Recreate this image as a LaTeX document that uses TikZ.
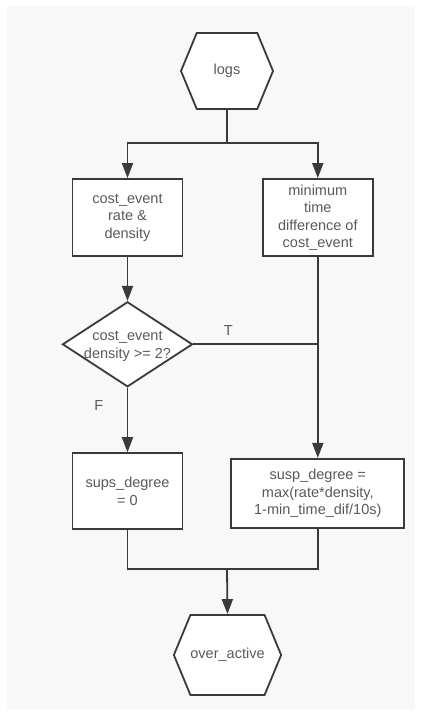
\documentclass[tikz,border=0pt]{standalone}
\usepackage{fontspec}
\setmainfont{Liberation Sans}
\usepackage{xcolor}
\usepackage{tikz}
\usetikzlibrary{shapes.geometric, shapes.symbols, arrows.meta, positioning, calc}

\definecolor{linegray}{HTML}{3A3A3A}
\definecolor{txtgray}{HTML}{5A5A5A}
\definecolor{bggray}{HTML}{F8F8F8}

\begin{document}
\begin{tikzpicture}[
    x=1pt, y=-1pt,
    every node/.style={font=\fontsize{14.5}{17.5}\selectfont, text=txtgray},
    hexa/.style={signal, signal to=west and east, signal pointer angle=135, draw=linegray, line width=1.8pt, fill=white, minimum width=92pt, minimum height=76pt, inner sep=0pt},
    block/.style={rectangle, draw=linegray, line width=1.8pt, fill=white, minimum width=110pt, minimum height=77pt, align=center, inner sep=2pt},
    decision/.style={diamond, draw=linegray, line width=1.8pt, fill=white, minimum width=130pt, minimum height=85pt, inner sep=0pt},
    line/.style={draw=linegray, line width=1.8pt},
    arrow/.style={line, -{Triangle[length=15pt, width=11pt]}}
]
\useasboundingbox (0,0) rectangle (422,715);
\fill[bggray] (7,6) rectangle (415,709);

% Start
\node[hexa] (logs) at (227,71) {logs};
\coordinate (split) at (227,143);

% Two branches
\node[block] (rate) at (127.5,217.5) {cost\_event\\rate \&\\density};
\node[block, right=78.5pt of rate] (mintime) {minimum\\time\\difference of\\cost\_event};

% Decision
\node[decision, below=44pt of rate, label={[yshift=-2pt, align=center]center:cost\_event\\density >= 2?}] (dens) {};

% Results
\node[block, below=64.5pt of dens, minimum height=76pt] (zero) {sups\_degree\\= 0};
\node[block, below=201pt of mintime, minimum width=173pt, minimum height=69pt] (susp) {susp\_degree =\\max(rate*density,\\1-min\_time\_dif/10s)};

% End
\coordinate (merge) at (227,569);
\node[hexa, minimum width=101pt, minimum height=80pt] (over) at (227.5,655) {over\_active};

% Arrows
\draw[line] (logs.south) -- (split);
\draw[arrow] (split) -| (rate.north);
\draw[arrow] (split) -| (mintime.north);
\draw[arrow] (rate) -- (dens);
\draw[arrow] (dens) -- node[pos=0.27, left=20pt] {F} (zero);
\draw[line] (dens.east) -- node[pos=0.28, above=5pt] {T} (dens.east -| mintime.south);
\draw[arrow] (mintime.south) -- (mintime.south |- susp.north);
\draw[line] (zero.south) |- (merge);
\draw[line] (susp.south) |- (merge);
\draw[arrow] (merge) -- (over.north);

\end{tikzpicture}
\end{document}
